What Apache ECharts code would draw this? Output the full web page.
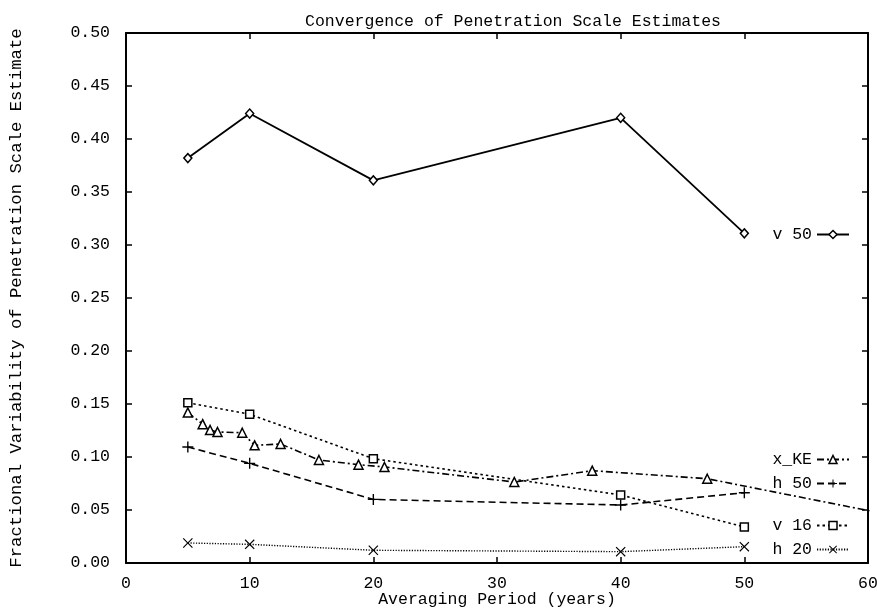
<!DOCTYPE html>
<html>
<head>
<meta charset="utf-8">
<script src="https://cdn.jsdelivr.net/npm/echarts@6/dist/echarts.min.js"></script>
<style>
  html, body { margin: 0; padding: 0; background: #fff; }
  #chart { width: 877px; height: 608px; }
</style>
</head>
<body>
<div id="chart"></div>
<script>
// Averaging period (years) and fractional variability for each estimate
const v50X = [5, 10, 20, 40, 50];
const v50Y = [0.382, 0.424, 0.361, 0.420, 0.311];

const xkeX = [5.0, 6.2, 6.8, 7.4, 9.4, 10.4, 12.5, 15.6, 18.8, 20.9, 31.4, 37.7, 47.0, 63];
const xkeY = [0.142, 0.131, 0.1255, 0.1236, 0.1229, 0.111, 0.1123, 0.0972, 0.0928, 0.0906, 0.0764, 0.0871, 0.0795, 0.0426];

const h50X = [5, 10, 20, 40, 50];
const h50Y = [0.1094, 0.094, 0.060, 0.0547, 0.0663];

const v16X = [5, 10, 20, 40, 50];
const v16Y = [0.1512, 0.1403, 0.0984, 0.0642, 0.034];

const h20X = [5, 10, 20, 40, 50];
const h20Y = [0.0189, 0.0176, 0.012, 0.0107, 0.0154];

const FONT = '"Liberation Mono", "DejaVu Sans Mono", monospace';
const INK = '#000';

// Point shapes drawn as filled outlines
const plusPath = 'path://M-0.75,-6H0.75V-0.75H6V0.75H0.75V6H-0.75V0.75H-6V-0.75H-0.75Z';
const crossPath = 'path://M-6,-5L-5,-6L0,-1L5,-6L6,-5L1,0L6,5L5,6L0,1L-5,6L-6,5L-1,0Z';

const hollow = { color: '#fff', borderColor: INK, borderWidth: 1.5 };
const solid = { color: INK, borderWidth: 0 };

function pairs(xs, ys) { return xs.map((x, i) => [x, ys[i]]); }

function lineSeries(name, xs, ys, lineType, width, symbol, size, style) {
  return {
    name: name,
    type: 'line',
    data: pairs(xs, ys),
    symbol: symbol,
    symbolSize: size,
    showAllSymbol: true,
    clip: true,
    lineStyle: { color: INK, width: width, type: lineType },
    itemStyle: style,
    emphasis: { disabled: true },
    animation: false
  };
}

function keyEntry(name, top, style) {
  return {
    data: [{ name: name, itemStyle: style }],
    right: 27,
    top: top,
    align: 'right',
    orient: 'vertical',
    itemWidth: 32,
    itemHeight: 10,
    padding: 0,
    selectedMode: false,
    textStyle: { fontFamily: FONT, fontSize: 16.5, color: INK }
  };
}

const chart = echarts.init(document.getElementById('chart'), null, { renderer: 'canvas' });

function axis(extra) {
  return Object.assign({
    type: 'value',
    axisLine: { show: true, onZero: false, lineStyle: { color: INK, width: 2 } },
    axisTick: { show: true, inside: true, length: 6, lineStyle: { color: INK, width: 1.5 } },
    splitLine: { show: false }
  }, extra);
}

chart.setOption({
  backgroundColor: '#fff',
  animation: false,
  title: {
    text: 'Convergence of Penetration Scale Estimates',
    left: 508,
    top: 8,
    textAlign: 'center',
    textStyle: { fontFamily: FONT, fontSize: 16.5, fontWeight: 'normal', color: INK }
  },
  grid: { left: 126, right: 9, top: 33, bottom: 45, containLabel: false, outerBoundsMode: 'none' },
  xAxis: [
    axis({
      min: 0, max: 60, interval: 10,
      position: 'bottom',
      name: 'Averaging Period (years)',
      nameLocation: 'middle',
      nameGap: 28,
      nameMoveOverlap: false,
      nameTextStyle: { fontFamily: FONT, fontSize: 16.5, color: INK },
      axisLabel: { fontFamily: FONT, fontSize: 16.5, color: INK, margin: 12 }
    }),
    axis({
      min: 0, max: 60, interval: 10,
      position: 'top',
      axisLabel: { show: false }
    })
  ],
  yAxis: [
    axis({
      min: 0, max: 0.5, interval: 0.05,
      position: 'left',
      name: 'Fractional Variability of Penetration Scale Estimate',
      nameLocation: 'middle',
      nameGap: 101,
      nameMoveOverlap: false,
      nameTextStyle: { fontFamily: FONT, fontSize: 17.3, color: INK },
      axisLabel: {
        fontFamily: FONT, fontSize: 16.5, color: INK, margin: 16,
        formatter: v => v.toFixed(2)
      }
    }),
    axis({
      min: 0, max: 0.5, interval: 0.05,
      position: 'right',
      axisLabel: { show: false }
    })
  ],
  legend: [
    keyEntry('v 50', 226, hollow),
    keyEntry('x_KE', 451, hollow),
    keyEntry('h 50', 475, solid),
    keyEntry('v 16', 517, hollow),
    keyEntry('h 20', 541, solid)
  ],
  series: [
    lineSeries('v 50', v50X, v50Y, 'solid', 1.8, 'diamond', [8, 9], hollow),
    lineSeries('x_KE', xkeX, xkeY, [7, 3, 2, 3], 1.6, 'triangle', 9, hollow),
    lineSeries('h 50', h50X, h50Y, [7, 4], 1.6, plusPath, 11, solid),
    lineSeries('v 16', v16X, v16Y, [2.5, 3], 1.6, 'rect', 8, hollow),
    lineSeries('h 20', h20X, h20Y, [1.2, 1.5], 1.4, crossPath, 10, solid)
  ]
});
</script>
</body>
</html>
